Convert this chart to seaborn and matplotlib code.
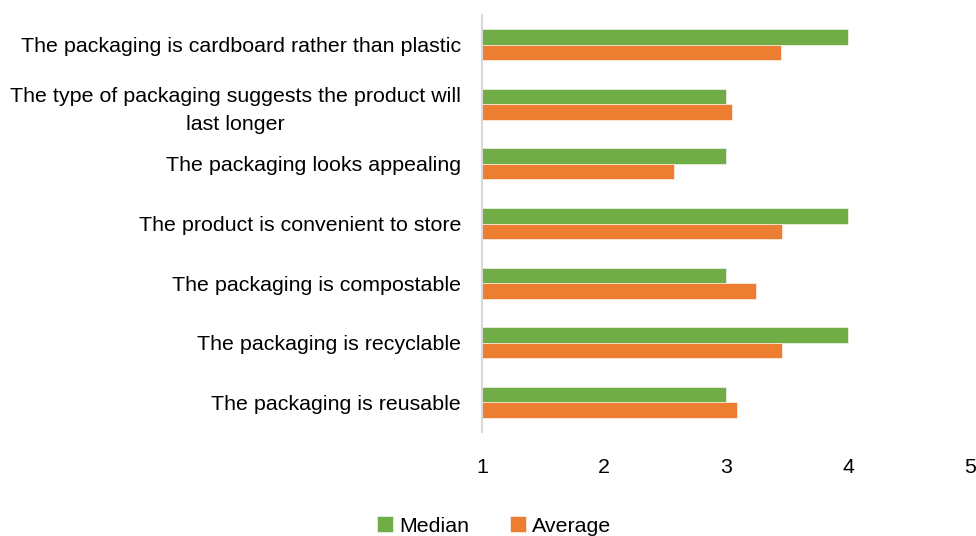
import matplotlib
matplotlib.use("Agg")
import matplotlib.pyplot as plt
import seaborn as sns
import pandas as pd

statements = [
    "The packaging is cardboard rather than plastic",
    "The type of packaging suggests the product will\nlast longer",
    "The packaging looks appealing",
    "The product is convenient to store",
    "The packaging is compostable",
    "The packaging is recyclable",
    "The packaging is reusable",
]
median_scores = [4, 3, 3, 4, 3, 4, 3]
average_scores = [3.45, 3.05, 2.57, 3.46, 3.24, 3.46, 3.09]
series_names = ["Median", "Average"]
x_ticks = [1, 2, 3, 4, 5]

df = pd.DataFrame({
    "statement": statements * 2,
    "score": median_scores + average_scores,
    "measure": [series_names[0]] * len(statements) + [series_names[1]] * len(statements),
})

sns.set_theme(style="white")
plt.rcParams["font.family"] = ["Liberation Sans", "DejaVu Sans"]

FS = 15.4

fig = plt.figure(figsize=(9.76, 5.36), dpi=100)
ax = fig.add_axes([482 / 976, 1 - 432 / 536, (970.4 - 482) / 976, (432 - 15) / 536])

palette = {"Median": "#70AD47", "Average": "#ED7D31"}
sns.barplot(
    data=df, y="statement", x="score", hue="measure",
    order=statements, hue_order=series_names, palette=palette,
    orient="h", width=0.52, saturation=1, ax=ax,
    edgecolor="white", linewidth=0.4, legend=True,
)

ax.set_xlim(1, 5)
ax.set_xticks(x_ticks)
ax.set_xticklabels([str(t) for t in x_ticks])
ax.set_xlabel("")
ax.set_ylabel("")

for side in ["top", "right", "bottom"]:
    ax.spines[side].set_visible(False)
ax.spines["left"].set_color("#d9d9d9")
ax.spines["left"].set_linewidth(1.5)

ax.tick_params(axis="x", length=0, pad=19, labelsize=FS, labelcolor="#000000")
ax.tick_params(axis="y", length=0, pad=15, labelsize=FS, labelcolor="#000000")
for lbl in ax.get_yticklabels():
    lbl.set_multialignment("center")
    lbl.set_linespacing(1.55)

handles, labels = ax.get_legend_handles_labels()
ax.get_legend().remove()
leg = fig.legend(
    handles, labels, loc="center", bbox_to_anchor=(494 / 976, 1 - 526 / 536),
    ncol=2, frameon=False, fontsize=FS, handlelength=0.75, handleheight=0.75,
    handletextpad=0.3, columnspacing=1.9,
)
for t in leg.get_texts():
    t.set_color("#000000")

fig.savefig("out.png", dpi=100)
